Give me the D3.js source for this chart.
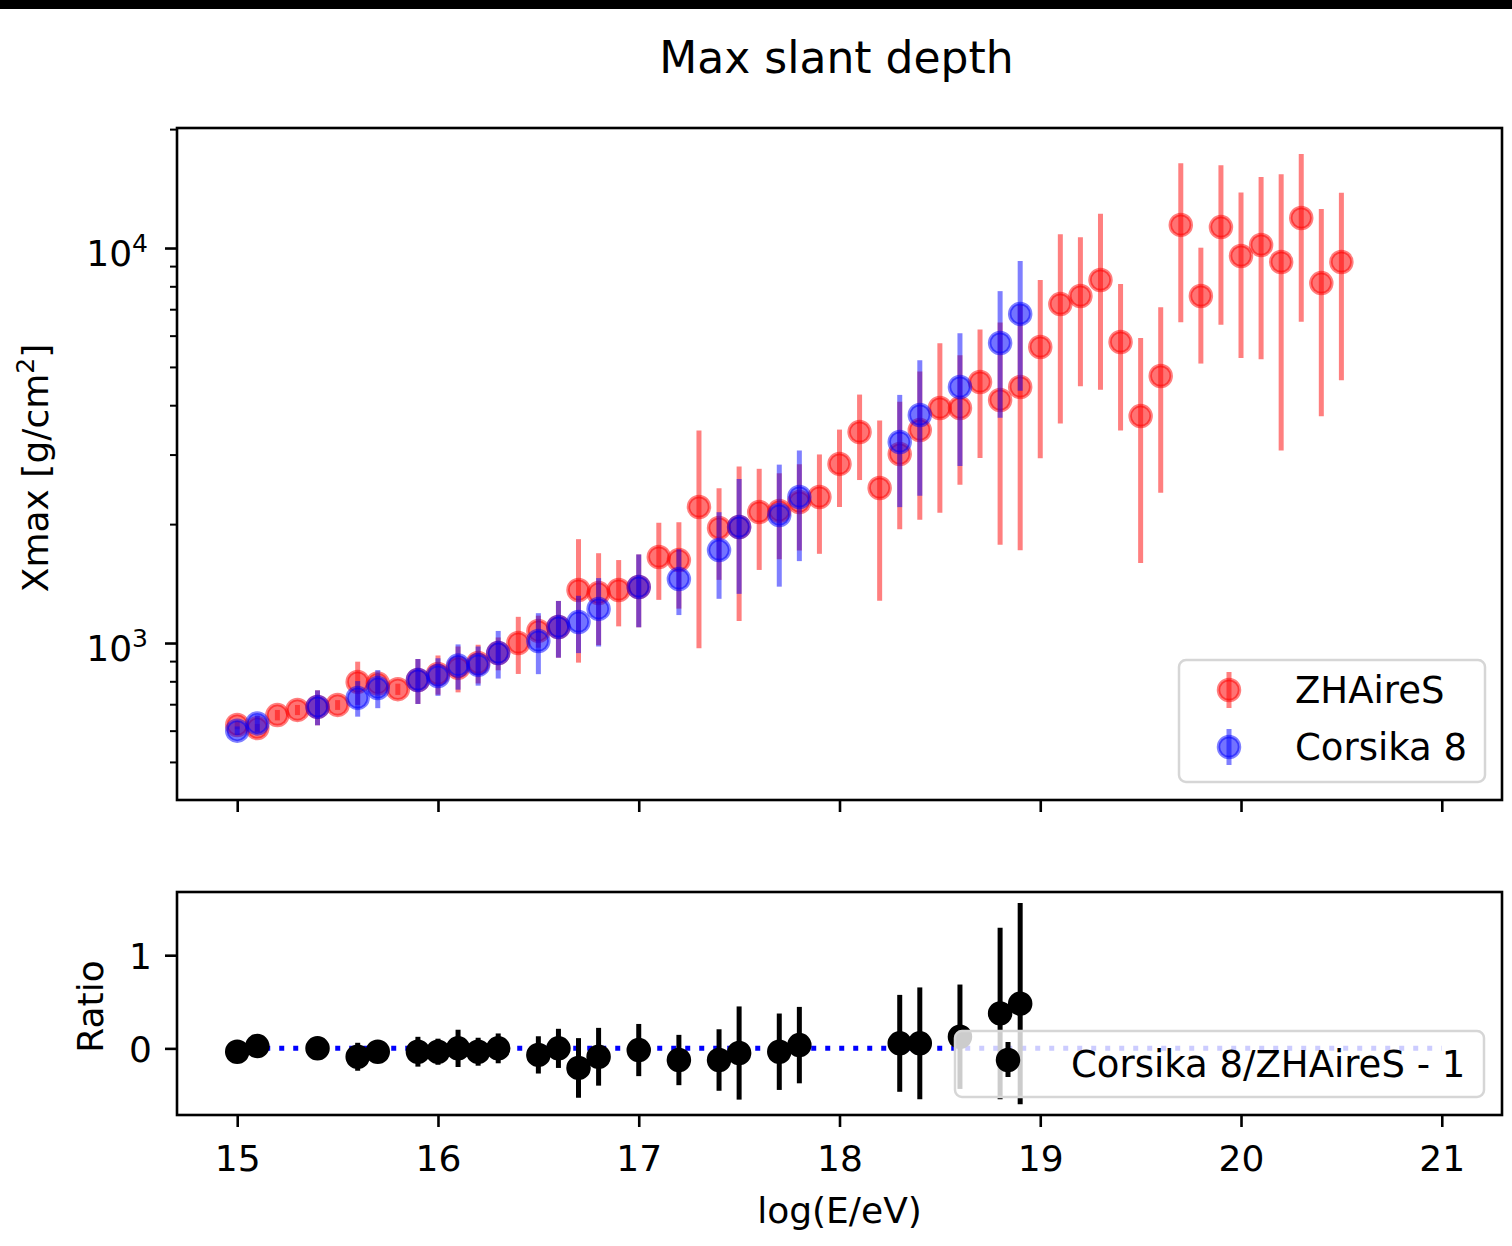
<!DOCTYPE html>
<html>
<head>
<meta charset="utf-8">
<script src="https://cdn.jsdelivr.net/npm/d3@7"></script>
<style>
  body { margin: 0; background: #fff; }
  svg text { font-family: "DejaVu Sans", sans-serif; fill: #000; }
</style>
</head>
<body>
<div id="chart"></div>
<script>
// ZHAireS points (every 0.1 in log E)
const zhEnergy = [15.0, 15.1, 15.2, 15.3, 15.4, 15.5, 15.6, 15.7, 15.8, 15.9,
    16.0, 16.1, 16.2, 16.3, 16.4, 16.5, 16.6, 16.7, 16.8, 16.9,
    17.0, 17.1, 17.2, 17.3, 17.4, 17.5, 17.6, 17.7, 17.8, 17.9,
    18.0, 18.1, 18.2, 18.3, 18.4, 18.5, 18.6, 18.7, 18.8, 18.9,
    19.0, 19.1, 19.2, 19.3, 19.4, 19.5, 19.6, 19.7, 19.8, 19.9,
    20.0, 20.1, 20.2, 20.3, 20.4, 20.5];
const zhXmax = [620, 609, 657, 677, 689, 697, 797, 790, 764, 806,
    835, 865, 890, 943, 1000, 1073, 1098, 1362, 1338, 1362,
    1386, 1651, 1622, 2210, 1955, 1967, 2146, 2160, 2275, 2342,
    2840, 3421, 2469, 3010, 3461, 3936, 3936, 4580, 4124, 4447,
    5615, 7214, 7559, 8300, 5781, 3755, 4742, 11440, 7559, 11300,
    9544, 10180, 9217, 11910, 8153, 9217];
const zhErr = [15, 15, 20, 20, 70, 20, 100, 40, 25, 105,
    95, 115, 100, 90, 165, 100, 180, 470, 350, 260,
    290, 365, 400, 1240, 510, 830, 615, 530, 560, 660,
    630, 835, 1190, 1070, 1410, 1800, 1420, 1640, 2350, 2730,
    2680, 3620, 3090, 3920, 2330, 2160, 2340, 4950, 2460, 4910,
    4280, 4950, 6145, 5400, 4400, 4590];

// Corsika 8 points
const c8Energy = [15.0, 15.1, 15.4, 15.6, 15.7, 15.9, 16.0, 16.1, 16.2, 16.3,
    16.5, 16.6, 16.7, 16.8, 17.0, 17.2, 17.4, 17.5, 17.7, 17.8,
    18.3, 18.4, 18.6, 18.8, 18.9];
const c8Xmax = [600, 626, 689, 726, 769, 806, 825, 877, 880, 943,
    1012, 1098, 1130, 1220, 1386, 1452, 1719, 1967, 2109, 2342,
    3228, 3778, 4447, 5748, 6810];
const c8Err = [15, 30, 70, 75, 85, 105, 90, 115, 100, 130,
    178, 180, 187, 240, 290, 275, 425, 635, 720, 730,
    1020, 1420, 1640, 2030, 2460];

// Corsika 8 / ZHAireS - 1
const ratioVal = [-0.036, 0.025, 0.0, -0.09, -0.036, -0.036, -0.036, 0.0, -0.036, 0.0,
    -0.07, 0.0, -0.21, -0.09, -0.018, -0.125, -0.125, -0.05, -0.036, 0.035,
    0.054, 0.054, 0.125, 0.375, 0.48];
const ratioErr = [0.05, 0.05, 0.1, 0.15, 0.1, 0.16, 0.14, 0.2, 0.15, 0.16,
    0.2, 0.21, 0.32, 0.31, 0.28, 0.27, 0.33, 0.5, 0.41, 0.41,
    0.52, 0.6, 0.56, 0.92, 1.08];
const refLine = [[15, 0], [21, 0]];

const xTicks = [15, 16, 17, 18, 19, 20, 21];
const yMajorTicks = [1000, 10000];
const yMinorTicks = [500, 600, 700, 800, 900, 2000, 3000, 4000, 5000, 6000, 7000, 8000, 9000, 20000];
const ratioTicks = [0, 1];

const width = 1512, height = 1246;
const left = 177, right = 1502;
const top1 = 128, bottom1 = 800;
const top2 = 892, bottom2 = 1115;
const fs = 36;

const svg = d3.select('#chart')
    .append('svg')
    .attr('width', width)
    .attr('height', height);

svg.append('rect').attr('width', width).attr('height', height).attr('fill', '#fff');
svg.append('rect').attr('width', width).attr('height', 9).attr('fill', '#000');

const xScale = d3.scaleLinear().domain([14.7, 21.3]).range([left, right]);
const yScale = d3.scaleLog().domain([400.5, 20130]).range([bottom1, top1]);
const rScale = d3.scaleLinear().domain([-0.715, 1.678]).range([bottom2, top2]);

const defs = svg.append('defs');
defs.append('clipPath').attr('id', 'clip-top')
    .append('rect').attr('x', left).attr('y', top1)
    .attr('width', right - left).attr('height', bottom1 - top1);
defs.append('clipPath').attr('id', 'clip-ratio')
    .append('rect').attr('x', left).attr('y', top2)
    .attr('width', right - left).attr('height', bottom2 - top2);

// title
svg.append('text')
    .attr('x', (left + right) / 2 - 3)
    .attr('y', 73)
    .attr('text-anchor', 'middle')
    .attr('font-size', 44)
    .text('Max slant depth');

// ---- top panel ----
function drawSeries(g, xs, ys, es, color) {
    const pts = xs.map((x, i) => ({ x: x, y: ys[i], e: es[i] }));
    g.selectAll(null)
        .data(pts)
        .enter()
        .append('line')
        .attr('x1', d => xScale(d.x))
        .attr('x2', d => xScale(d.x))
        .attr('y1', d => yScale(Math.max(d.y - d.e, 401)))
        .attr('y2', d => yScale(d.y + d.e))
        .attr('stroke', color)
        .attr('stroke-opacity', 0.5)
        .attr('stroke-width', 5);
    g.selectAll(null)
        .data(pts)
        .enter()
        .append('circle')
        .attr('cx', d => xScale(d.x))
        .attr('cy', d => yScale(d.y))
        .attr('r', 10.5)
        .attr('fill', color)
        .attr('fill-opacity', 0.55)
        .attr('stroke', color)
        .attr('stroke-opacity', 0.5)
        .attr('stroke-width', 3.5);
}

const plotTop = svg.append('g').attr('clip-path', 'url(#clip-top)');
drawSeries(plotTop.append('g'), zhEnergy, zhXmax, zhErr, '#ff0000');
drawSeries(plotTop.append('g'), c8Energy, c8Xmax, c8Err, '#0000ff');

// axes for the top panel
svg.append('g')
    .attr('transform', 'translate(0,' + bottom1 + ')')
    .call(d3.axisBottom(xScale).tickValues(xTicks).tickFormat('').tickSizeInner(12).tickSizeOuter(0))
    .call(g => g.select('.domain').remove())
    .call(g => g.selectAll('line').attr('stroke-width', 2.6));

svg.append('g')
    .attr('transform', 'translate(' + left + ',0)')
    .call(d3.axisLeft(yScale).tickValues(yMajorTicks).tickFormat('').tickSizeInner(12).tickSizeOuter(0))
    .call(g => g.select('.domain').remove())
    .call(g => g.selectAll('line').attr('stroke-width', 2.6));

svg.append('g')
    .attr('transform', 'translate(' + left + ',0)')
    .call(d3.axisLeft(yScale).tickValues(yMinorTicks).tickFormat('').tickSizeInner(7).tickSizeOuter(0))
    .call(g => g.select('.domain').remove())
    .call(g => g.selectAll('line').attr('stroke-width', 2));

const powLabels = svg.append('g');
yMajorTicks.forEach(v => {
    const t = powLabels.append('text')
        .attr('x', 148)
        .attr('y', yScale(v) + 18)
        .attr('text-anchor', 'end')
        .attr('font-size', fs);
    t.append('tspan').text('10');
    t.append('tspan').attr('font-size', 25).attr('dy', -14).text(Math.round(Math.log10(v)));
});

svg.append('rect')
    .attr('x', left).attr('y', top1)
    .attr('width', right - left).attr('height', bottom1 - top1)
    .attr('fill', 'none').attr('stroke', '#000').attr('stroke-width', 2.6);

const yLab = svg.append('text')
    .attr('transform', 'translate(48,' + ((top1 + bottom1) / 2 + 4) + ') rotate(-90)')
    .attr('text-anchor', 'middle')
    .attr('font-size', fs);
yLab.append('tspan').text('Xmax [g/cm');
yLab.append('tspan').attr('font-size', 25).attr('dy', -14).text('2');
yLab.append('tspan').attr('dy', 14).text(']');

// legend top
const leg1 = svg.append('g');
leg1.append('rect')
    .attr('x', 1179).attr('y', 660).attr('width', 306).attr('height', 122)
    .attr('rx', 7)
    .attr('fill', '#fff').attr('fill-opacity', 0.8)
    .attr('stroke', '#d6d6d6').attr('stroke-width', 2.5);
[['ZHAireS', '#ff0000', 690], ['Corsika 8', '#0000ff', 747]].forEach(([name, color, cy]) => {
    leg1.append('line')
        .attr('x1', 1229).attr('x2', 1229)
        .attr('y1', cy - 18).attr('y2', cy + 18)
        .attr('stroke', color).attr('stroke-opacity', 0.5).attr('stroke-width', 5);
    leg1.append('circle')
        .attr('cx', 1229).attr('cy', cy).attr('r', 10.5)
        .attr('fill', color).attr('fill-opacity', 0.55)
        .attr('stroke', color).attr('stroke-opacity', 0.5).attr('stroke-width', 3.5);
    leg1.append('text')
        .attr('x', 1295).attr('y', cy + 13)
        .attr('font-size', 37)
        .text(name);
});

// ---- ratio panel ----
const plotRatio = svg.append('g').attr('clip-path', 'url(#clip-ratio)');

plotRatio.append('path')
    .datum(refLine)
    .attr('d', d3.line().x(d => xScale(d[0])).y(d => rScale(d[1])))
    .attr('fill', 'none')
    .attr('stroke', '#0000ff')
    .attr('stroke-width', 5)
    .attr('stroke-dasharray', '5,9');

const ratioPts = c8Energy.map((x, i) => ({ x: x, r: ratioVal[i], e: ratioErr[i] }));

plotRatio.selectAll(null)
    .data(ratioPts)
    .enter()
    .append('line')
    .attr('x1', d => xScale(d.x))
    .attr('x2', d => xScale(d.x))
    .attr('y1', d => rScale(d.r - d.e))
    .attr('y2', d => rScale(d.r + d.e))
    .attr('stroke', '#000')
    .attr('stroke-width', 5);

plotRatio.selectAll(null)
    .data(ratioPts)
    .enter()
    .append('circle')
    .attr('cx', d => xScale(d.x))
    .attr('cy', d => rScale(d.r))
    .attr('r', 10.5)
    .attr('fill', '#000')
    .attr('stroke', '#000')
    .attr('stroke-width', 3.5);

svg.append('g')
    .attr('transform', 'translate(0,' + bottom2 + ')')
    .call(d3.axisBottom(xScale).tickValues(xTicks).tickFormat(d3.format('d')).tickSizeInner(12).tickSizeOuter(0))
    .call(g => g.select('.domain').remove())
    .call(g => g.selectAll('line').attr('stroke-width', 2.6))
    .call(g => g.selectAll('text')
        .attr('font-family', '"DejaVu Sans", sans-serif')
        .attr('font-size', fs)
        .attr('dy', null)
        .attr('y', 56));

svg.append('g')
    .attr('transform', 'translate(' + left + ',0)')
    .call(d3.axisLeft(rScale).tickValues(ratioTicks).tickFormat(d3.format('d')).tickSizeInner(12).tickSizeOuter(0))
    .call(g => g.select('.domain').remove())
    .call(g => g.selectAll('line').attr('stroke-width', 2.6))
    .call(g => g.selectAll('text')
        .attr('font-family', '"DejaVu Sans", sans-serif')
        .attr('font-size', fs)
        .attr('dy', null)
        .attr('y', 13)
        .attr('x', -25));

svg.append('rect')
    .attr('x', left).attr('y', top2)
    .attr('width', right - left).attr('height', bottom2 - top2)
    .attr('fill', 'none').attr('stroke', '#000').attr('stroke-width', 2.6);

svg.append('text')
    .attr('transform', 'translate(103,' + ((top2 + bottom2) / 2 + 3) + ') rotate(-90)')
    .attr('text-anchor', 'middle')
    .attr('font-size', fs)
    .text('Ratio');

svg.append('text')
    .attr('x', (left + right) / 2)
    .attr('y', 1223)
    .attr('text-anchor', 'middle')
    .attr('font-size', fs)
    .text('log(E/eV)');

// legend ratio
const leg2 = svg.append('g');
leg2.append('rect')
    .attr('x', 955).attr('y', 1031).attr('width', 529).attr('height', 66)
    .attr('rx', 7)
    .attr('fill', '#fff').attr('fill-opacity', 0.8)
    .attr('stroke', '#d6d6d6').attr('stroke-width', 2.5);
leg2.append('line')
    .attr('x1', 1008).attr('x2', 1008)
    .attr('y1', 1042).attr('y2', 1077)
    .attr('stroke', '#000').attr('stroke-width', 5);
leg2.append('circle')
    .attr('cx', 1008).attr('cy', 1060).attr('r', 10.5)
    .attr('fill', '#000').attr('stroke', '#000').attr('stroke-width', 3.5);
leg2.append('text')
    .attr('x', 1071).attr('y', 1077)
    .attr('font-size', 37)
    .text('Corsika 8/ZHAireS - 1');
</script>
</body>
</html>
